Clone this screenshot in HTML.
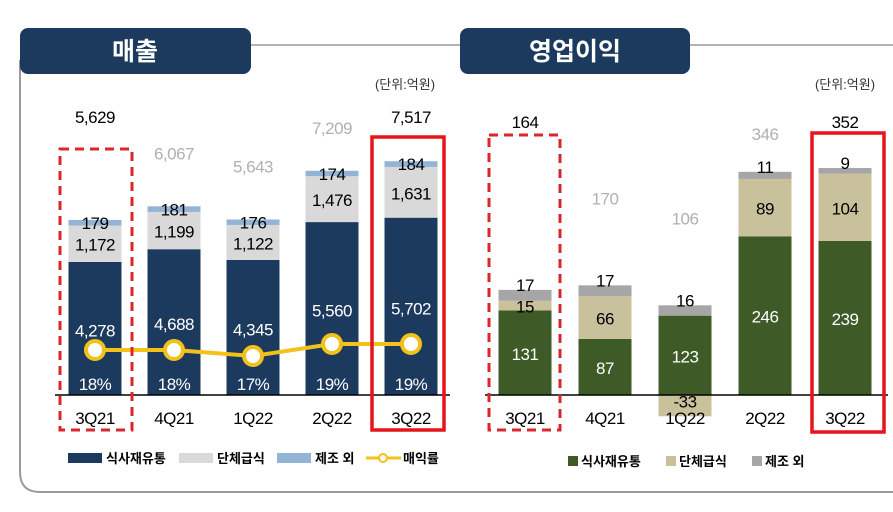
<!DOCTYPE html>
<html><head><meta charset="utf-8">
<style>
html,body{margin:0;padding:0;background:#fff;}
svg{display:block;font-family:"Liberation Sans","Noto Sans CJK KR",sans-serif;}
</style></head>
<body>
<svg id="c" width="893" height="512" viewBox="0 0 893 512" xmlns="http://www.w3.org/2000/svg">
  <path d="M20 60 L20 472 Q20 492 40 492 L893 492" fill="none" stroke="#9a9a9a" stroke-width="2"/>
  <line x1="240" y1="45" x2="893" y2="45" stroke="#9a9a9a" stroke-width="1.5"/>
  <rect x="20" y="28" width="231" height="46" rx="8" fill="#1c3a5e"/>
  <text x="135" y="60" fill="#fff" font-size="25" font-weight="bold" text-anchor="middle">매출</text>
  <rect x="460" y="28" width="230" height="46" rx="8" fill="#1c3a5e"/>
  <text x="575" y="60" fill="#fff" font-size="25" font-weight="bold" text-anchor="middle">영업이익</text>
  <text x="405" y="89" font-size="13" fill="#333" text-anchor="middle">(단위:억원)</text>
  <text x="845" y="89" font-size="13" fill="#333" text-anchor="middle">(단위:억원)</text>
  <g id="left"></g><g id="right"></g>
</svg>
<script>
const categories = ["3Q21","4Q21","1Q22","2Q22","3Q22"];
const revFood = [4278,4688,4345,5560,5702];
const revCatering = [1172,1199,1122,1476,1631];
const revOther = [179,181,176,174,184];
const revTotal = [5629,6067,5643,7209,7517];
const revMargin = [18,18,17,19,19];
const opFood = [131,87,123,246,239];
const opCatering = [15,66,-33,89,104];
const opOther = [17,17,16,11,9];
const opTotal = [164,170,106,346,352];
const highlight = [true,false,false,false,true];

const NS="http://www.w3.org/2000/svg";
function mk(parent,tag,attrs,text){const e=document.createElementNS(NS,tag);for(const k in attrs)e.setAttribute(k,attrs[k]);if(text!==undefined)e.textContent=text;parent.appendChild(e);return e;}
function fmt(v){return v.toLocaleString('en-US');}

// ---- Left chart ----
const L=document.getElementById('left');
const lBase=395, lScale=0.0311, lx0=95, lstep=79, lbw=53;
const lx=i=>lx0+i*lstep;
const ly=v=>lBase-v*lScale;
const my=m=>350-(m-18)*6;
categories.forEach((c,i)=>{
  const x=lx(i)-lbw/2;
  const y1=ly(revFood[i]), y2=ly(revFood[i]+revCatering[i]), y3=ly(revFood[i]+revCatering[i]+revOther[i]);
  let r=mk(L,'rect',{x:x,y:y1,width:lbw,height:lBase-y1,fill:'#1c3a5e'});
  
  r=mk(L,'rect',{x:x,y:y2,width:lbw,height:y1-y2,fill:'#d9d9d9'});
  
  r=mk(L,'rect',{x:x,y:y3,width:lbw,height:y2-y3,fill:'#94b4d6'});
  
  let t=mk(L,'text',{x:lx(i),y:y3+9,'font-size':17,'text-anchor':'middle',fill:'#000','letter-spacing':'-0.5'},fmt(revOther[i]));
  
  t=mk(L,'text',{x:lx(i),y:(y1+y2)/2+7,'font-size':17,'text-anchor':'middle',fill:'#000','letter-spacing':'-0.5'},fmt(revCatering[i]));
  
  t=mk(L,'text',{x:lx(i),y:(y1+lBase)/2+8,'font-size':17,'text-anchor':'middle',fill:'#fff','letter-spacing':'-0.5'},fmt(revFood[i]));
  
  t=mk(L,'text',{x:lx(i),y:390,'font-size':17,'text-anchor':'middle',fill:'#fff','letter-spacing':'-0.5'},revMargin[i]+'%');
  
  const tot=revFood[i]+revCatering[i]+revOther[i];
  t=mk(L,'text',{x:lx(i),y:highlight[i]?123:Math.max(134,ly(tot)-47),'font-size':17,'text-anchor':'middle',fill:highlight[i]?'#000':'#b0b0b0','letter-spacing':'-0.5'},fmt(revTotal[i]));
  
  t=mk(L,'text',{x:lx(i),y:424,'font-size':17,'text-anchor':'middle',fill:'#000','letter-spacing':'-0.5'},c);
  
});
let ax=mk(L,'line',{x1:55,y1:lBase,x2:450,y2:lBase,stroke:'#000','stroke-width':1.5});

let pts=categories.map((c,i)=>lx(i)+','+my(revMargin[i])).join(' ');
let pl=mk(L,'polyline',{points:pts,fill:'none',stroke:'#f2c21b','stroke-width':4});

categories.forEach((c,i)=>{
  const p=mk(L,'circle',{cx:lx(i),cy:my(revMargin[i]),r:9,fill:'#fff',stroke:'#f2c21b','stroke-width':4});
  
});

// ---- Right chart ----
const R=document.getElementById('right');
const rBase=395, rScale=0.645, rx0=525, rstep=80, rbw=53;
const rx=i=>rx0+i*rstep;
const ry=v=>rBase-v*rScale;
categories.forEach((c,i)=>{
  const x=rx(i)-rbw/2;
  const f=opFood[i], ca=opCatering[i], o=opOther[i];
  const y1=ry(f);
  let r=mk(R,'rect',{x:x,y:y1,width:rbw,height:rBase-y1,fill:'#3d5a27'});
  
  let top, catTop, catBot;
  if(ca>=0){catTop=ry(f+ca);catBot=y1;top=ry(f+ca+o);}
  else {catTop=rBase;catBot=ry(ca);top=ry(f+o);}
  r=mk(R,'rect',{x:x,y:catTop,width:rbw,height:catBot-catTop,fill:'#c9c19c'});
  
  const oBot=ca>=0?catTop:y1;
  r=mk(R,'rect',{x:x,y:top,width:rbw,height:oBot-top,fill:'#a6a6a6'});
  
  let t=mk(R,'text',{x:rx(i),y:top+1,'font-size':17,'text-anchor':'middle',fill:'#000','letter-spacing':'-0.5'},fmt(o));
  
  t=mk(R,'text',{x:rx(i),y:(ca>=0?(catTop+catBot)/2+7:(catTop+catBot)/2+2),'font-size':17,'text-anchor':'middle',fill:'#000','letter-spacing':'-0.5'},fmt(ca));
  
  t=mk(R,'text',{x:rx(i),y:(y1+rBase)/2+7,'font-size':17,'text-anchor':'middle',fill:'#fff','letter-spacing':'-0.5'},fmt(f));
  
  t=mk(R,'text',{x:rx(i),y:highlight[i]?128:Math.max(140,top-81),'font-size':17,'text-anchor':'middle',fill:highlight[i]?'#000':'#b0b0b0','letter-spacing':'-0.5'},fmt(opTotal[i]));
  
  t=mk(R,'text',{x:rx(i),y:424,'font-size':17,'text-anchor':'middle',fill:'#000','letter-spacing':'-0.5'},c);
  
});
ax=mk(R,'line',{x1:485,y1:rBase,x2:888,y2:rBase,stroke:'#000','stroke-width':1.5});


// highlight boxes
const S=document.getElementById('c');
let b=mk(S,'rect',{x:60,y:149,width:72,height:281,fill:'none',stroke:'#d9262a','stroke-width':3,'stroke-dasharray':'9 6'});

b=mk(S,'rect',{x:372,y:137,width:72,height:293,fill:'none',stroke:'#e8141a','stroke-width':3.5});

b=mk(S,'rect',{x:489,y:135,width:71,height:295,fill:'none',stroke:'#d9262a','stroke-width':3,'stroke-dasharray':'9 6'});

b=mk(S,'rect',{x:812,y:133,width:72,height:299,fill:'none',stroke:'#e8141a','stroke-width':3.5});


// legends
const LG=mk(S,'g',{});

let e=mk(LG,'rect',{x:68,y:453,width:34,height:10,fill:'#1c3a5e'});

e=mk(LG,'text',{x:106,y:463,'font-size':13,'font-weight':'bold'},'식사재유통');

e=mk(LG,'rect',{x:179,y:453,width:34,height:10,fill:'#d9d9d9'});

e=mk(LG,'text',{x:217,y:463,'font-size':13,'font-weight':'bold'},'단체급식');

e=mk(LG,'rect',{x:277,y:453,width:34,height:10,fill:'#94b4d6'});

e=mk(LG,'text',{x:315,y:463,'font-size':13,'font-weight':'bold'},'제조 외');

e=mk(LG,'line',{x1:366,y1:458,x2:401,y2:458,stroke:'#f2c21b','stroke-width':3});

e=mk(LG,'circle',{cx:383,cy:458,r:4,fill:'#fff',stroke:'#f2c21b','stroke-width':2});

e=mk(LG,'text',{x:403,y:463,'font-size':13,'font-weight':'bold'},'매익률');


const RG=mk(S,'g',{});

e=mk(RG,'rect',{x:568,y:456,width:10,height:10,fill:'#3d5a27'});

e=mk(RG,'text',{x:581,y:466,'font-size':13,'font-weight':'bold'},'식사재유통');

e=mk(RG,'rect',{x:666,y:456,width:10,height:10,fill:'#c9c19c'});

e=mk(RG,'text',{x:679,y:466,'font-size':13,'font-weight':'bold'},'단체급식');

e=mk(RG,'rect',{x:752,y:456,width:10,height:10,fill:'#a6a6a6'});

e=mk(RG,'text',{x:765,y:466,'font-size':13,'font-weight':'bold'},'제조 외');

</script>
</body></html>
